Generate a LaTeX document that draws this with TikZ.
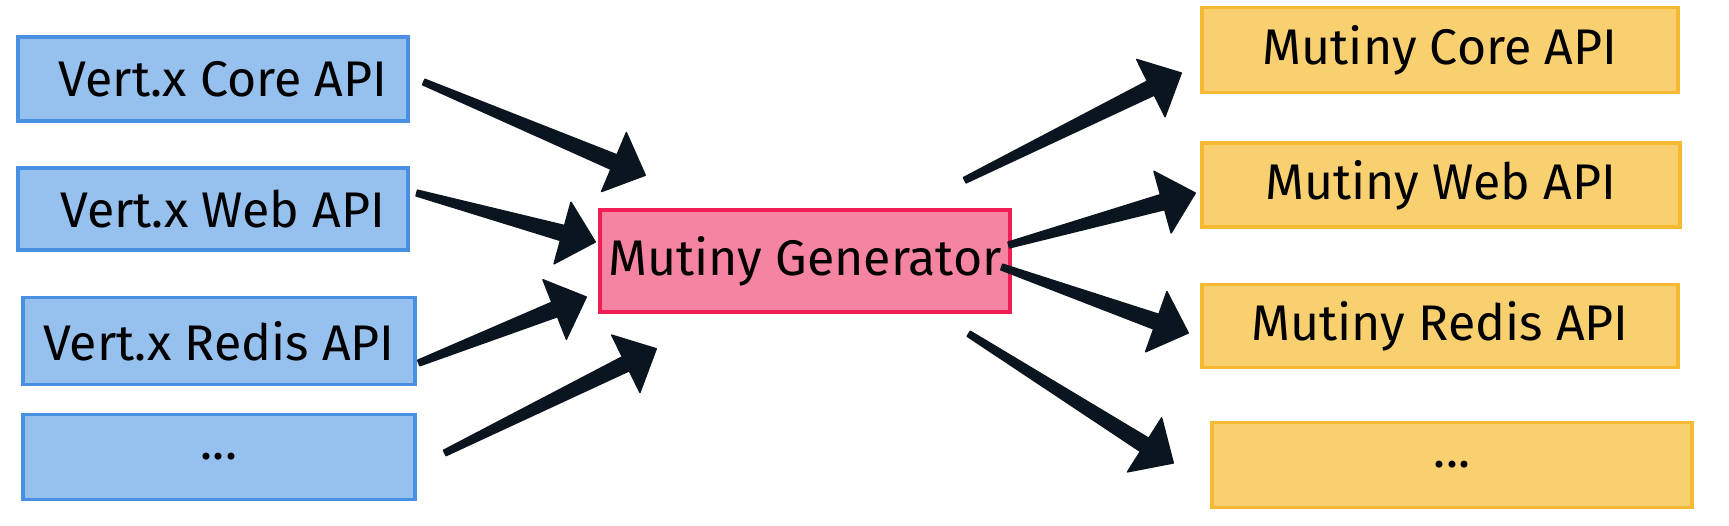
\documentclass[tikz,border=0pt]{standalone}
\usepackage{fontspec}
\setmainfont{Fira Sans}
\usetikzlibrary{calc}
\definecolor{bluefill}{RGB}{150,192,238}
\definecolor{blueline}{RGB}{74,144,226}
\definecolor{pinkfill}{RGB}{245,132,163}
\definecolor{pinkline}{RGB}{240,30,85}
\definecolor{yelfill}{RGB}{249,208,112}
\definecolor{yelline}{RGB}{246,185,50}
\definecolor{ink}{RGB}{11,21,32}
\tikzset{
  box/.style={draw, line width=2pt, inner sep=0pt, text=black,
    font=\fontsize{28.5}{32}\selectfont},
  leftbox/.style={box, fill=bluefill, draw=blueline},
  genbox/.style={box, fill=pinkfill, draw=pinkline},
  rightbox/.style={box, fill=yelfill, draw=yelline},
  arrowink/.style={fill=ink, draw=ink, line width=0.8pt, line join=round}
}
\newcommand\taperarrow[2]{%
  \fill[arrowink] ($(#1)!0.06cm!90:(#2)$)
    -- ($($(#2)!0.55cm!(#1)$)!0.16cm!-90:(#1)$)
    -- ($($(#2)!0.55cm!(#1)$)!0.16cm!90:(#1)$)
    -- ($(#1)!0.06cm!-90:(#2)$) -- cycle;
  \filldraw[arrowink] ($($(#2)!0.68cm!(#1)$)!0.64cm!-90:(#1)$)
    -- (#2)
    -- ($($(#2)!0.68cm!(#1)$)!0.64cm!90:(#1)$) -- cycle;
}
\begin{document}
\begin{tikzpicture}[x=0.02cm, y=-0.02cm]
\useasboundingbox (0,0) rectangle (1729,525);
% left boxes
\node[leftbox, minimum width=7.8cm, minimum height=1.68cm] (l1) at (213,79) {\hspace{0.4cm}Vert.x Core API};
\node[leftbox, minimum width=7.8cm, minimum height=1.64cm] (l2) at (213,209) {\hspace{0.4cm}Vert.x Web API};
\node[leftbox, minimum width=7.84cm, minimum height=1.74cm] (l3) at (219,341) {Vert.x Redis API};
\node[leftbox, minimum width=7.84cm, minimum height=1.7cm] (l4) at (219,457) {...};
% generator
\node[genbox, minimum width=8.2cm, minimum height=2.04cm] (gen) at (805,261) {Mutiny Generator};
% right boxes
\node[rightbox, minimum width=9.52cm, minimum height=1.7cm] (r1) at (1440,50) {Mutiny Core API};
\node[rightbox, minimum width=9.56cm, minimum height=1.68cm] (r2) at (1441,185) {Mutiny Web API};
\node[rightbox, minimum width=9.52cm, minimum height=1.66cm] (r3) at (1440,326) {Mutiny Redis API};
\node[rightbox, minimum width=9.6cm, minimum height=1.7cm] (r4) at (1452,465) {...};
% arrow ends
\coordinate (a1s) at ($(l1.east)+(14,3)$);
\coordinate (a1e) at ($(gen.north west)+(47,-33)$);
\coordinate (a2s) at ($(l2.east)+(7,-16)$);
\coordinate (a2e) at ($(gen.west)+(-3,-19)$);
\coordinate (a3s) at ($(l3.east)+(2,22)$);
\coordinate (a3e) at ($(gen.west)+(-12,36)$);
\coordinate (a4s) at ($(l4.east)+(28,-4)$);
\coordinate (a4e) at ($(gen.south west)+(58,35)$);
\coordinate (b1s) at ($(gen.north east)+(-47,-28)$);
\coordinate (b1e) at ($(r1.west)+(-19,23)$);
\coordinate (b2s) at ($(gen.east)+(-3,-16)$);
\coordinate (b2e) at ($(r2.west)+(-5,8)$);
\coordinate (b3s) at ($(gen.east)+(-10,6)$);
\coordinate (b3e) at ($(r3.west)+(-12,7)$);
\coordinate (b4s) at ($(gen.south east)+(-43,20)$);
\coordinate (b4e) at ($(r4.west)+(-37,-2)$);
\taperarrow{a1s}{a1e}
\taperarrow{a2s}{a2e}
\taperarrow{a3s}{a3e}
\taperarrow{a4s}{a4e}
\taperarrow{b1s}{b1e}
\taperarrow{b2s}{b2e}
\taperarrow{b3s}{b3e}
\taperarrow{b4s}{b4e}
\end{tikzpicture}
\end{document}
